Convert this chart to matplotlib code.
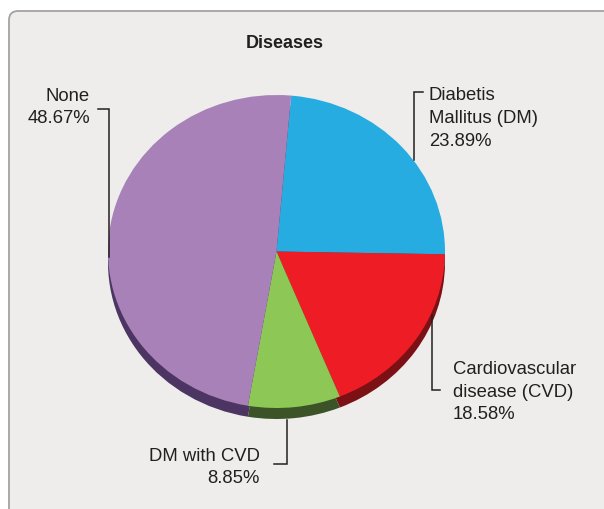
import matplotlib
matplotlib.use("Agg")
import matplotlib.pyplot as plt
from matplotlib.patches import FancyBboxPatch

# Disease distribution
categories = ["Diabetis\nMallitus (DM)", "Cardiovascular\ndisease (CVD)", "DM with CVD", "None"]
shares = [23.89, 18.58, 8.85, 48.67]
top_colors = ["#27ACE2", "#EE1C25", "#8DC755", "#A881B8"]
side_colors = ["#15607F", "#7B1115", "#3C5227", "#4C3562"]
title = "Diseases"

plt.rcParams["font.family"] = ["Liberation Sans", "DejaVu Sans"]
W, H = 604, 509
fig = plt.figure(figsize=(W / 100, H / 100), dpi=100, facecolor="white")

# background panel (pixel coordinates, y downwards)
bg = fig.add_axes([0, 0, 1, 1], zorder=0)
bg.set_xlim(0, W)
bg.set_ylim(H, 0)
bg.axis("off")
bg.add_patch(FancyBboxPatch((9, 11), 640, 560,
                            boxstyle="round,pad=0,rounding_size=9",
                            facecolor="#EEEDEB", edgecolor="#A3A3A3", lw=1.3))

# pie area: an ellipse with a shallow side wall for the tilted look
cx, cy, rx, ry = 276.5, 251.5, 168.5, 156.5
depth = 11 / ry
pax = fig.add_axes([(cx - rx) / W, (H - (cy + ry)) / H, 2 * rx / W, 2 * ry / H], zorder=1)
pax.pie(shares, colors=side_colors, startangle=85, counterclock=False,
        center=(0, -depth), wedgeprops=dict(linewidth=0))
pax.pie(shares, colors=top_colors, startangle=85, counterclock=False,
        wedgeprops=dict(linewidth=0))
pax.set_aspect("auto")
pax.set_xlim(-1, 1)
pax.set_ylim(-1, 1)
pax.patch.set_visible(False)
for w in pax.patches:
    w.set_clip_on(False)

# labels, values and leader lines
fg = fig.add_axes([0, 0, 1, 1], zorder=2)
fg.set_xlim(0, W)
fg.set_ylim(H, 0)
fg.axis("off")
fg.patch.set_visible(False)

ink = "#231F20"
fs = 13.3
fg.text(284.5, 48, title, ha="center", va="baseline", fontsize=13,
        fontweight="bold", color=ink)

def label(lines, x, baselines, ha):
    for t, yb in zip(lines, baselines):
        fg.text(x, yb, t, ha=ha, va="baseline", fontsize=fs, color=ink)

def leader(xs, ys):
    fg.plot(xs, ys, color=ink, lw=1.1, solid_joinstyle="miter")

pct = [f"{v:.2f}%" for v in shares]

# Diabetis Mallitus
label(categories[0].split("\n") + [pct[0]], 429, [100, 123, 146], "left")
leader([423, 414, 414], [92, 92, 160])

# Cardiovascular disease
label(categories[1].split("\n") + [pct[1]], 453, [374, 397, 419], "left")
leader([432, 432, 440], [315, 390, 390])

# DM with CVD
label([categories[2], pct[2]], 260, [461, 483], "right")
leader([287, 287, 274], [420, 464, 464])

# None
label([categories[3], pct[3]], 90, [101, 123], "right")
leader([98, 109, 109], [109, 109, 257])

fig.savefig("out.png", dpi=100, facecolor="white")
